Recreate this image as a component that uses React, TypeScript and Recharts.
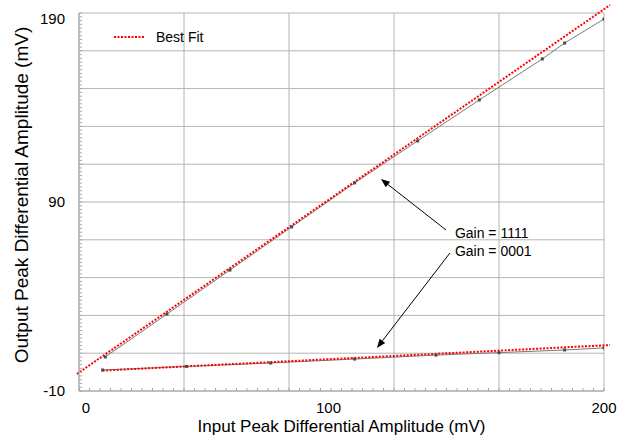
import React from 'react';
import { ComposedChart, Line, XAxis, YAxis, ReferenceLine, ReferenceDot, Legend } from 'recharts';

const FONT = '"Liberation Sans", Arial, Helvetica, sans-serif';

// Gain = 1111 measured points
const gain1111X = [10, 33.5, 57.5, 81, 105, 129, 152.5, 176.5, 185, 200];
const gain1111Y = [8.0, 30.7, 54.0, 76.8, 100.1, 122.3, 144.0, 165.7, 174.1, 186.8];
// Gain = 0001 measured points
const gain0001X = [9, 41, 73, 105, 136, 160, 185, 200];
const gain0001Y = [1.1, 3.0, 4.8, 6.9, 9.0, 10.3, 11.7, 12.8];
// Best fit lines (end points)
const fit1111X = [-0.8, 202.3];
const fit1111Y = [-1, 194.2];
const fit0001X = [9, 202.3];
const fit0001Y = [0.8, 14.3];

const xTickLabels = [0, 100, 200];
const yTickLabels = [-10, 90, 190];
const gridX = [0, 40, 80, 120, 160, 200];
const gridY = [-10, 10, 30, 50, 70, 90, 110, 130, 150, 170, 190];
const minorX = Array.from({ length: 51 }, (_, i) => i * 4);
const minorY = Array.from({ length: 101 }, (_, i) => -10 + i * 2);

const xTitle = 'Input Peak Differential Amplitude (mV)';
const yTitle = 'Output Peak Differential Amplitude (mV)';

const annotations = [
  { text: 'Gain = 1111', x: 143.2, y: 73.6 },
  { text: 'Gain = 0001', x: 143.2, y: 64.1 },
];
const arrows = [
  { from: { x: 139.8, y: 75.2 }, to: { x: 115, y: 102.2 } },
  { from: { x: 141.3, y: 63 }, to: { x: 113.5, y: 12.8 } },
];

const toPts = (xs: number[], ys: number[]) => xs.map((x, i) => ({ x, y: ys[i] }));
const data1111 = toPts(gain1111X, gain1111Y);
const data0001 = toPts(gain0001X, gain0001Y);
const fitA = toPts(fit1111X, fit1111Y);
const fitB = toPts(fit0001X, fit0001Y);

const xLabelShift: Record<number, number> = { 0: 7, 100: -13, 200: 0 };
const yLabelShift: Record<number, number> = { 190: 6, 90: 0, [-10]: 0 };

const AXIS_GRAY = '#a6a6a6';
const GRID_GRAY = '#b4b4b4';

const XTick = (props: any) => {
  const { x, y, payload } = props;
  const v = payload.value;
  const isLabel = xTickLabels.includes(v);
  return (
    <g>
      <line x1={x} y1={y} x2={x} y2={y - 3} stroke={AXIS_GRAY} strokeWidth={1} />
      {isLabel && (
        <text x={x + (xLabelShift[v] || 0)} y={y + 22} textAnchor="middle" fontFamily={FONT} fontSize={15} fill="#000">
          {v}
        </text>
      )}
    </g>
  );
};

const YTick = (props: any) => {
  const { x, y, payload } = props;
  const v = payload.value;
  const isLabel = yTickLabels.includes(v);
  return (
    <g>
      <line x1={x} y1={y} x2={x + 3} y2={y} stroke={AXIS_GRAY} strokeWidth={1} />
      {isLabel && (
        <text x={x - 14} y={y + 5.3 + (yLabelShift[v] || 0)} textAnchor="end" fontFamily={FONT} fontSize={15} fill="#000">
          {v}
        </text>
      )}
    </g>
  );
};

const XTitle = (props: any) => {
  const vb = props.viewBox || {};
  const cx = vb.x + vb.width / 2;
  const by = vb.y + 41;
  return (
    <text x={cx} y={by} textAnchor="middle" fontFamily={FONT} fontSize={17} fill="#000">
      {xTitle}
    </text>
  );
};

const YTitle = (props: any) => {
  const vb = props.viewBox || {};
  const ax = vb.x + 28;
  const ay = vb.y + vb.height / 2 - 7;
  return (
    <text x={ax} y={ay} transform={`rotate(-90, ${ax}, ${ay})`} textAnchor="middle" fontFamily={FONT} fontSize={19} fill="#000">
      {yTitle}
    </text>
  );
};

const SquareDot = (props: any) => {
  const { cx, cy, index } = props;
  if (cx == null || cy == null) return <g key={`e${index}`} />;
  return <rect key={`d${index}`} x={cx - 1.5} y={cy - 1.5} width={3} height={3} fill="#4a4a4a" />;
};

const ArrowShape = (props: any) => {
  const { x1, y1, x2, y2 } = props;
  const ang = Math.atan2(y2 - y1, x2 - x1);
  const len = 9;
  const hw = 3.5;
  const bx = x2 - len * Math.cos(ang);
  const by = y2 - len * Math.sin(ang);
  const px = -Math.sin(ang) * hw;
  const py = Math.cos(ang) * hw;
  return (
    <g>
      <line x1={x1} y1={y1} x2={bx} y2={by} stroke="#000" strokeWidth={1} />
      <polygon points={`${x2},${y2} ${bx + px},${by + py} ${bx - px},${by - py}`} fill="#000" />
    </g>
  );
};

const LegendContent = () => (
  <div style={{ display: 'flex', alignItems: 'center', fontFamily: FONT, fontSize: 14, color: '#000', whiteSpace: 'nowrap' }}>
    <svg width={30} height={4} style={{ display: 'block' }}>
      <line x1={0} y1={2} x2={30} y2={2} stroke="#ff0000" strokeWidth={2} strokeDasharray="2 1.5" />
    </svg>
    <span style={{ marginLeft: 12 }}>Best Fit</span>
  </div>
);

export default function App() {
  return (
    <div style={{ position: 'absolute', left: 0, top: 0, width: 629, height: 440, background: '#fff' }}>
      <ComposedChart width={629} height={440} margin={{ top: 13, right: 25, bottom: 9, left: 0 }}>
        <XAxis
          dataKey="x"
          type="number"
          domain={[0, 200]}
          ticks={minorX}
          interval={0}
          tickSize={0}
          tickMargin={0}
          tickLine={false}
          tick={<XTick />}
          axisLine={{ stroke: AXIS_GRAY }}
          height={40}
          allowDataOverflow
          label={{ value: xTitle, content: XTitle }}
        />
        <YAxis
          type="number"
          domain={[-10, 190]}
          ticks={minorY}
          interval={0}
          tickSize={0}
          tickMargin={0}
          tickLine={false}
          tick={<YTick />}
          axisLine={{ stroke: AXIS_GRAY }}
          width={79}
          allowDataOverflow
          label={{ value: yTitle, content: YTitle }}
        />
        {gridX.map((v) => (
          <ReferenceLine key={`gx${v}`} x={v} stroke={GRID_GRAY} strokeWidth={1} ifOverflow="visible" />
        ))}
        {gridY.map((v) => (
          <ReferenceLine key={`gy${v}`} y={v} stroke={GRID_GRAY} strokeWidth={1} ifOverflow="visible" />
        ))}
        <Line data={data1111} dataKey="y" type="linear" stroke="#7a7a7a" strokeWidth={1} dot={SquareDot} activeDot={false} isAnimationActive={false} legendType="none" name="Gain = 1111" />
        <Line data={data0001} dataKey="y" type="linear" stroke="#7a7a7a" strokeWidth={1} dot={SquareDot} activeDot={false} isAnimationActive={false} legendType="none" name="Gain = 0001" />
        <ReferenceLine segment={fitA} stroke="#ff0000" strokeWidth={2} strokeDasharray="2 1.5" ifOverflow="visible" />
        <ReferenceLine segment={fitB} stroke="#ff0000" strokeWidth={2} strokeDasharray="2 1.5" ifOverflow="visible" />
        {arrows.map((a, i) => (
          <ReferenceLine key={`ar${i}`} segment={[a.from, a.to]} ifOverflow="visible" shape={ArrowShape} />
        ))}
        {annotations.map((a, i) => (
          <ReferenceDot
            key={`an${i}`}
            x={a.x}
            y={a.y}
            r={0}
            ifOverflow="visible"
            shape={(p: any) => (
              <text x={p.cx} y={p.cy + 5} fontFamily={FONT} fontSize={14} fill="#000">
                {a.text}
              </text>
            )}
          />
        ))}
        <Legend
          layout="horizontal"
          align="center"
          verticalAlign="middle"
          content={<LegendContent />}
          wrapperStyle={{ position: 'absolute', left: 114, top: 29, width: 'auto' }}
        />
      </ComposedChart>
    </div>
  );
}
